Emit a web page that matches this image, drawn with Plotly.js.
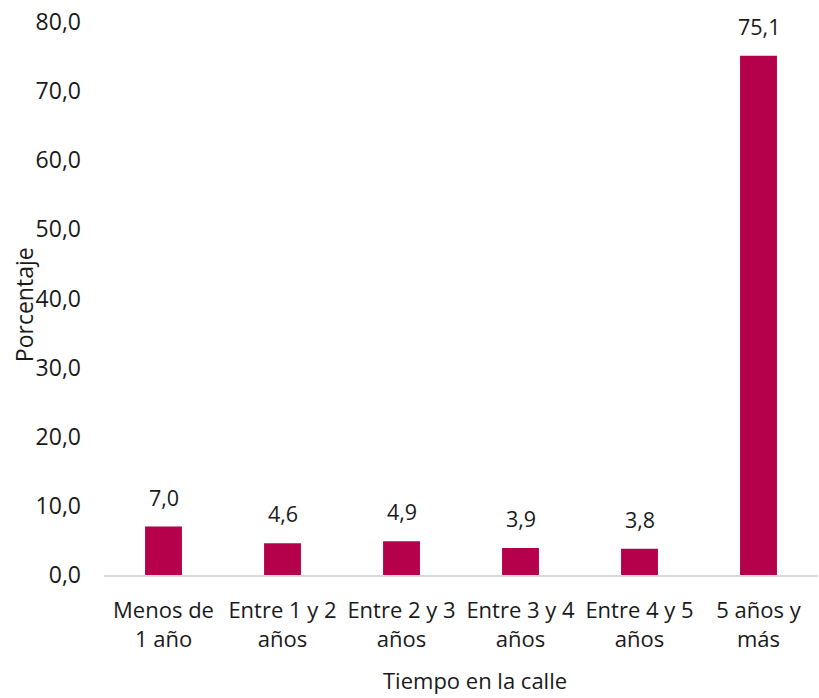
<!DOCTYPE html>
<html>
<head>
<meta charset="utf-8">
<script src="https://cdn.plot.ly/plotly-3.0.1.min.js"></script>
<style>html,body{margin:0;padding:0;background:#fff;}#chart{width:819px;height:698px;}</style>
</head>
<body>
<div id="chart"></div>
<script>
const categories = ["Menos de<br>1 año", "Entre 1 y 2<br>años", "Entre 2 y 3<br>años", "Entre 3 y 4<br>años", "Entre 4 y 5<br>años", "5 años y<br>más"];
const values = [7.0, 4.6, 4.9, 3.9, 3.8, 75.1];
const yTicks = [0, 10, 20, 30, 40, 50, 60, 70, 80];
const xTitle = "Tiempo en la calle";
const yTitle = "Porcentaje";

const FONT = "Open Sans, Noto Sans, sans-serif";
const TXT = "#1a1a1a";
const barColor = "#b5004b";

const trace = {
  type: "bar",
  x: categories,
  y: values,
  marker: {color: barColor},
  textposition: "none",
  hoverinfo: "none"
};

const annotations = values.map((v, i) => ({
  x: categories[i], y: v, xref: "x", yref: "y",
  text: v.toFixed(1).replace(".", ","),
  showarrow: false, yanchor: "bottom", yshift: 13,
  font: {family: FONT, size: 21.5, color: TXT}
}));
annotations.push({
  xref: "paper", yref: "paper", x: -0.112, y: 0.488,
  text: yTitle, textangle: -90, showarrow: false,
  xanchor: "center", yanchor: "middle",
  font: {family: FONT, size: 23, color: TXT}
});
annotations.push({
  xref: "paper", yref: "paper", x: 0.52, y: -0.189,
  text: xTitle, showarrow: false,
  xanchor: "center", yanchor: "middle", borderpad: 0,
  font: {family: FONT, size: 22, color: TXT}
});

const layout = {
  width: 819, height: 698,
  margin: {l: 104, r: 1, t: 22, b: 123},
  paper_bgcolor: "#ffffff", plot_bgcolor: "#ffffff",
  bargap: 0.69,
  showlegend: false,
  separators: ",.",
  font: {family: FONT, size: 22, color: TXT},
  xaxis: {
    type: "category",
    showgrid: false, zeroline: false,
    showline: true, linecolor: "#d9d9d9", linewidth: 2,
    ticks: "", ticklabelstandoff: 15,
    tickfont: {family: FONT, size: 22, color: TXT},
    automargin: false, fixedrange: true
  },
  yaxis: {
    range: [0, 80],
    tickvals: yTicks,
    tickformat: ".1f",
    showgrid: false, zeroline: false, showline: false,
    ticks: "", ticklabelstandoff: 22,
    tickfont: {family: FONT, size: 23, color: TXT},
    automargin: false, fixedrange: true
  },
  annotations: annotations
};

Plotly.newPlot("chart", [trace], layout, {displayModeBar: false, staticPlot: true});
</script>
</body>
</html>
